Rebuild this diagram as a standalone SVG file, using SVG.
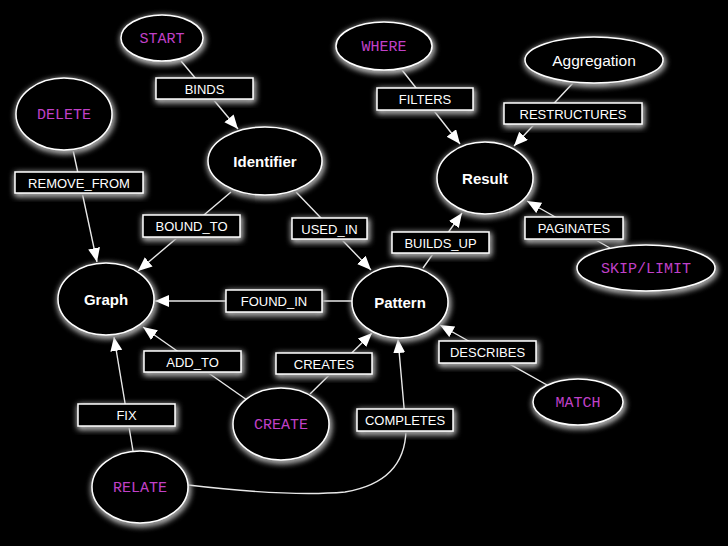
<svg xmlns="http://www.w3.org/2000/svg" width="728" height="546" viewBox="0 0 728 546">
<defs>
<style>
.n{fill:#000;stroke:#fff;stroke-width:1.5;filter:url(#glow)}
.b{fill:#000;stroke:#fff;stroke-width:1.5;filter:url(#glow)}
.e{fill:none;stroke:#e8e8e8;stroke-width:1.4}
.a{marker-end:url(#arr)}
.t{font-family:"Liberation Sans",Arial,sans-serif;fill:#fff;text-anchor:middle}
.tb{font-family:"Liberation Sans",Arial,sans-serif;font-weight:bold;font-size:15px;fill:#fff;text-anchor:middle}
.tl{font-family:"Liberation Sans",Arial,sans-serif;font-size:13px;fill:#fff;text-anchor:middle}
.k{font-family:"Liberation Mono","Courier New",monospace;font-size:15px;fill:#c040c8;text-anchor:middle}
</style>
<filter id="glow" x="-40%" y="-40%" width="180%" height="180%">
<feGaussianBlur in="SourceGraphic" stdDeviation="3" result="b"/>
<feOffset in="b" dx="1" dy="2" result="o"/>
<feComponentTransfer in="o" result="g"><feFuncA type="linear" slope="1.5"/><feFuncR type="linear" slope="1.2"/><feFuncG type="linear" slope="1.2"/><feFuncB type="linear" slope="1.2"/></feComponentTransfer>
<feMerge><feMergeNode in="g"/><feMergeNode in="SourceGraphic"/></feMerge>
</filter>
<marker id="arr" markerUnits="userSpaceOnUse" markerWidth="16" markerHeight="14" refX="14" refY="6" orient="auto">
<path d="M0,0 L14,6 L0,12 Z" fill="#fff"/>
</marker>
</defs>
<rect x="0" y="0" width="728" height="546" fill="#000"/>
<g id="connectors">
<path class="e a" d="M181,61 L238,129"/>
<path class="e a" d="M73,150 L97,262"/>
<path class="e a" d="M231,192 L138,271"/>
<path class="e a" d="M296,192 L371,270"/>
<path class="e a" d="M402,70 L460,144"/>
<path class="e a" d="M573,83 L514,146"/>
<path class="e a" d="M423,268 L462,213"/>
<path class="e a" d="M610,248 L527,201"/>
<path class="e a" d="M352,301 L155,301"/>
<path class="e a" d="M247,400 L143,327"/>
<path class="e a" d="M310,394 L372,333"/>
<path class="e a" d="M547,385 L440,325"/>
<path class="e a" d="M133,451 L114,337"/>
<path class="e a" d="M188,485 Q290,497 345,492 Q405,482 406,430 L398,339"/>
<g id="label-binds"><rect class="b" x="156" y="78" width="97" height="21"/><text class="tl" x="204.5" y="93.5">BINDS</text></g>
<g id="label-remove-from"><rect class="b" x="15" y="172" width="128" height="21"/><text class="tl" x="79" y="187.5">REMOVE_FROM</text></g>
<g id="label-filters"><rect class="b" x="377" y="88" width="96" height="22"/><text class="tl" x="425" y="104">FILTERS</text></g>
<g id="label-restructures"><rect class="b" x="504" y="103" width="138" height="21"/><text class="tl" x="573" y="118.5">RESTRUCTURES</text></g>
<g id="label-bound-to"><rect class="b" x="143" y="215" width="97" height="22"/><text class="tl" x="191.5" y="231">BOUND_TO</text></g>
<g id="label-used-in"><rect class="b" x="292" y="218" width="75" height="21"/><text class="tl" x="329.5" y="233.5">USED_IN</text></g>
<g id="label-builds-up"><rect class="b" x="392" y="232" width="97" height="21"/><text class="tl" x="440.5" y="247.5">BUILDS_UP</text></g>
<g id="label-paginates"><rect class="b" x="525" y="217" width="98" height="22"/><text class="tl" x="574" y="233">PAGINATES</text></g>
<g id="label-found-in"><rect class="b" x="226" y="290" width="96" height="22"/><text class="tl" x="274" y="306">FOUND_IN</text></g>
<g id="label-add-to"><rect class="b" x="144" y="351" width="97" height="21"/><text class="tl" x="192.5" y="366.5">ADD_TO</text></g>
<g id="label-creates"><rect class="b" x="276" y="353" width="96" height="21"/><text class="tl" x="324" y="368.5">CREATES</text></g>
<g id="label-describes"><rect class="b" x="439" y="341" width="97" height="22"/><text class="tl" x="487.5" y="357">DESCRIBES</text></g>
<g id="label-fix"><rect class="b" x="78" y="404" width="97" height="22"/><text class="tl" x="126.5" y="420">FIX</text></g>
<g id="label-completes"><rect class="b" x="357" y="409" width="96" height="22"/><text class="tl" x="405" y="425">COMPLETES</text></g>
</g>
<g id="node-start"><ellipse class="n" cx="162" cy="38" rx="41" ry="23"/><text class="k" x="162" y="43">START</text></g>
<g id="node-delete"><ellipse class="n" cx="64" cy="114" rx="48" ry="36"/><text class="k" x="64" y="119">DELETE</text></g>
<g id="node-identifier"><ellipse class="n" cx="265" cy="161" rx="57" ry="34"/><text class="tb" x="265" y="166.5">Identifier</text></g>
<g id="node-where"><ellipse class="n" cx="384" cy="46" rx="48" ry="24"/><text class="k" x="384" y="51">WHERE</text></g>
<g id="node-aggregation"><ellipse class="n" cx="594" cy="60" rx="69" ry="23"/><text class="t" x="594" y="65.5" font-size="15.5">Aggregation</text></g>
<g id="node-result"><ellipse class="n" cx="485" cy="178" rx="48" ry="36"/><text class="tb" x="485" y="183.5">Result</text></g>
<g id="node-graph"><ellipse class="n" cx="106" cy="299" rx="48" ry="36"/><text class="tb" x="106" y="304.5">Graph</text></g>
<g id="node-pattern"><ellipse class="n" cx="400" cy="302" rx="48" ry="36"/><text class="tb" x="400" y="307.5">Pattern</text></g>
<g id="node-skip-limit"><ellipse class="n" cx="646" cy="268" rx="69" ry="23"/><text class="k" x="646" y="273">SKIP/LIMIT</text></g>
<g id="node-match"><ellipse class="n" cx="578" cy="402" rx="45" ry="23"/><text class="k" x="578" y="407">MATCH</text></g>
<g id="node-create"><ellipse class="n" cx="281" cy="424" rx="48" ry="36"/><text class="k" x="281" y="429">CREATE</text></g>
<g id="node-relate"><ellipse class="n" cx="140" cy="487" rx="48" ry="36"/><text class="k" x="140" y="492">RELATE</text></g>
</svg>
